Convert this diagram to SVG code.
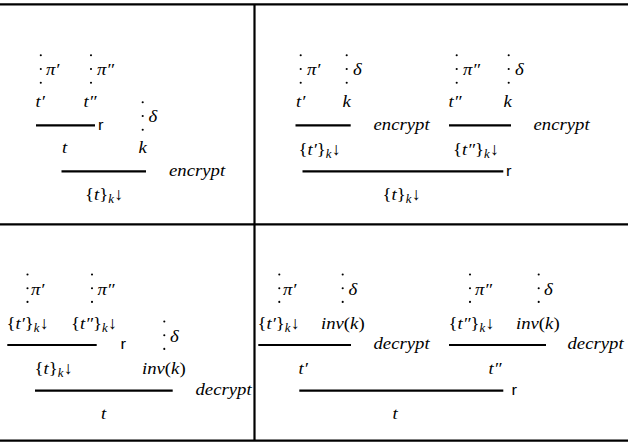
<svg xmlns="http://www.w3.org/2000/svg" xmlns:xlink="http://www.w3.org/1999/xlink" width="628" height="442" viewBox="0 0 628 442">
  <style>
    .m { font-family: "Liberation Serif", "Times New Roman", serif; font-size: 17.5px; font-style: italic; fill: #000; }
    .u { font-style: normal; }
    .s { font-size: 12px; }
    .rl { font-family: "Liberation Sans", Arial, sans-serif; font-size: 15.5px; font-style: normal; fill: #000; }
    .bar { stroke: #000; stroke-width: 2.2; }
    .frame { stroke: #000; stroke-width: 2.2; }
  </style>
  <defs>
    <!-- stretched vertical ellipsis used for sub-derivations -->
    <g id="vd">
      <circle cx="0" cy="0" r="1.05"/>
      <circle cx="0" cy="13.7" r="1.05"/>
      <circle cx="0" cy="27.4" r="1.05"/>
    </g>
  </defs>
  <rect width="628" height="442" fill="#fff"/>

  <!-- table rules -->
  <g id="frame" class="frame">
    <line x1="0" y1="4.3" x2="628" y2="4.3"/>
    <line x1="0" y1="224.3" x2="628" y2="224.3"/>
    <line x1="0" y1="440.6" x2="628" y2="440.6"/>
    <line x1="254.5" y1="4.3" x2="254.5" y2="440.6"/>
  </g>

  <!-- inference bars -->
  <g id="rules" class="bar">
    <line x1="36" y1="125.3" x2="95" y2="125.3"/>
    <line x1="61.5" y1="171.3" x2="146" y2="171.3"/>
    <line x1="295.5" y1="125.3" x2="350.7" y2="125.3"/>
    <line x1="449" y1="125.3" x2="511" y2="125.3"/>
    <line x1="302.5" y1="171.3" x2="503.3" y2="171.3"/>
    <line x1="7.3" y1="345" x2="96.7" y2="345"/>
    <line x1="35" y1="390.7" x2="172.7" y2="390.7"/>
    <line x1="258.3" y1="345" x2="351" y2="345"/>
    <line x1="449" y1="345" x2="546" y2="345"/>
    <line x1="299.3" y1="390.7" x2="503.3" y2="390.7"/>
  </g>

  <!-- top left: r then encrypt -->
  <g id="q1">
    <use xlink:href="#vd" x="40.8" y="55.3"/>
    <text class="m" transform="translate(46 75) scale(1.07 1)">π′</text>
    <use xlink:href="#vd" x="91" y="55.3"/>
    <text class="m" transform="translate(97 75) scale(1.07 1)">π″</text>
    <text class="m" transform="translate(35.5 107) scale(1.07 1)">t′</text>
    <text class="m" transform="translate(83.5 107) scale(1.07 1)">t″</text>
    <text class="rl" transform="translate(98 130) scale(1.07 1)">r</text>
    <use xlink:href="#vd" x="142.7" y="102.3"/>
    <text class="m" transform="translate(148.5 122) scale(1.07 1)">δ</text>
    <text class="m" transform="translate(62 153) scale(1.07 1)">t</text>
    <text class="m" transform="translate(138.5 153) scale(1.07 1)">k</text>
    <text class="m" transform="translate(169 175.5) scale(1.07 1)">encrypt</text>
    <text class="m" transform="translate(85 200) scale(1.07 1)"><tspan class="u">{</tspan>t<tspan class="u">}</tspan><tspan class="s" dy="3">k</tspan><tspan class="u" dy="-3">↓</tspan></text>
  </g>

  <!-- top right: encrypt each part, then r -->
  <g id="q2">
    <use xlink:href="#vd" x="300.7" y="55.3"/>
    <text class="m" transform="translate(307 75) scale(1.07 1)">π′</text>
    <use xlink:href="#vd" x="346.7" y="55.3"/>
    <text class="m" transform="translate(353 75) scale(1.07 1)">δ</text>
    <text class="m" transform="translate(296 106.5) scale(1.07 1)">t′</text>
    <text class="m" transform="translate(342.5 106.5) scale(1.07 1)">k</text>
    <text class="m" transform="translate(373.5 130) scale(1.07 1)">encrypt</text>
    <text class="m" transform="translate(298.5 155) scale(1.07 1)"><tspan class="u">{</tspan>t′<tspan class="u">}</tspan><tspan class="s" dy="3">k</tspan><tspan class="u" dy="-3">↓</tspan></text>
    <use xlink:href="#vd" x="456.7" y="55.3"/>
    <text class="m" transform="translate(463 75) scale(1.07 1)">π″</text>
    <use xlink:href="#vd" x="508.7" y="55.3"/>
    <text class="m" transform="translate(515 75) scale(1.07 1)">δ</text>
    <text class="m" transform="translate(448.5 106.5) scale(1.07 1)">t″</text>
    <text class="m" transform="translate(503.5 106.5) scale(1.07 1)">k</text>
    <text class="m" transform="translate(533.5 130) scale(1.07 1)">encrypt</text>
    <text class="m" transform="translate(453 155) scale(1.07 1)"><tspan class="u">{</tspan>t″<tspan class="u">}</tspan><tspan class="s" dy="3">k</tspan><tspan class="u" dy="-3">↓</tspan></text>
    <text class="rl" transform="translate(506 176) scale(1.07 1)">r</text>
    <text class="m" transform="translate(382.5 200) scale(1.07 1)"><tspan class="u">{</tspan>t<tspan class="u">}</tspan><tspan class="s" dy="3">k</tspan><tspan class="u" dy="-3">↓</tspan></text>
  </g>

  <!-- bottom left: r then decrypt -->
  <g id="q3">
    <use xlink:href="#vd" x="27.5" y="274.5"/>
    <text class="m" transform="translate(31 295) scale(1.07 1)">π′</text>
    <use xlink:href="#vd" x="92" y="274.5"/>
    <text class="m" transform="translate(97.5 295) scale(1.07 1)">π″</text>
    <text class="m" transform="translate(6.5 328.5) scale(1.07 1)"><tspan class="u">{</tspan>t′<tspan class="u">}</tspan><tspan class="s" dy="3">k</tspan><tspan class="u" dy="-3">↓</tspan></text>
    <text class="m" transform="translate(71 328.5) scale(1.07 1)"><tspan class="u">{</tspan>t″<tspan class="u">}</tspan><tspan class="s" dy="3">k</tspan><tspan class="u" dy="-3">↓</tspan></text>
    <text class="rl" transform="translate(120.5 348.5) scale(1.07 1)">r</text>
    <use xlink:href="#vd" x="164.3" y="321.5"/>
    <text class="m" transform="translate(170 342) scale(1.07 1)">δ</text>
    <text class="m" transform="translate(34.5 373.5) scale(1.07 1)"><tspan class="u">{</tspan>t<tspan class="u">}</tspan><tspan class="s" dy="3">k</tspan><tspan class="u" dy="-3">↓</tspan></text>
    <text class="m" transform="translate(142 373.5) scale(1.07 1)">inv<tspan class="u">(</tspan>k<tspan class="u">)</tspan></text>
    <text class="m" transform="translate(195.5 395) scale(1.07 1)">decrypt</text>
    <text class="m" transform="translate(101 418.5) scale(1.07 1)">t</text>
  </g>

  <!-- bottom right: decrypt each part, then r -->
  <g id="q4">
    <use xlink:href="#vd" x="279.3" y="274.5"/>
    <text class="m" transform="translate(283 295) scale(1.07 1)">π′</text>
    <use xlink:href="#vd" x="342.7" y="274.5"/>
    <text class="m" transform="translate(348.5 295) scale(1.07 1)">δ</text>
    <text class="m" transform="translate(257.5 329) scale(1.07 1)"><tspan class="u">{</tspan>t′<tspan class="u">}</tspan><tspan class="s" dy="3">k</tspan><tspan class="u" dy="-3">↓</tspan></text>
    <text class="m" transform="translate(321 329) scale(1.07 1)">inv<tspan class="u">(</tspan>k<tspan class="u">)</tspan></text>
    <text class="m" transform="translate(373.5 349) scale(1.07 1)">decrypt</text>
    <use xlink:href="#vd" x="470" y="274.5"/>
    <text class="m" transform="translate(475 295) scale(1.07 1)">π″</text>
    <use xlink:href="#vd" x="538.7" y="274.5"/>
    <text class="m" transform="translate(544 295) scale(1.07 1)">δ</text>
    <text class="m" transform="translate(448.5 329) scale(1.07 1)"><tspan class="u">{</tspan>t″<tspan class="u">}</tspan><tspan class="s" dy="3">k</tspan><tspan class="u" dy="-3">↓</tspan></text>
    <text class="m" transform="translate(516 329) scale(1.07 1)">inv<tspan class="u">(</tspan>k<tspan class="u">)</tspan></text>
    <text class="m" transform="translate(567.5 349) scale(1.07 1)">decrypt</text>
    <text class="m" transform="translate(298.5 373.5) scale(1.07 1)">t′</text>
    <text class="m" transform="translate(488.5 373.5) scale(1.07 1)">t″</text>
    <text class="rl" transform="translate(511.5 395) scale(1.07 1)">r</text>
    <text class="m" transform="translate(392.5 418.5) scale(1.07 1)">t</text>
  </g>
</svg>
